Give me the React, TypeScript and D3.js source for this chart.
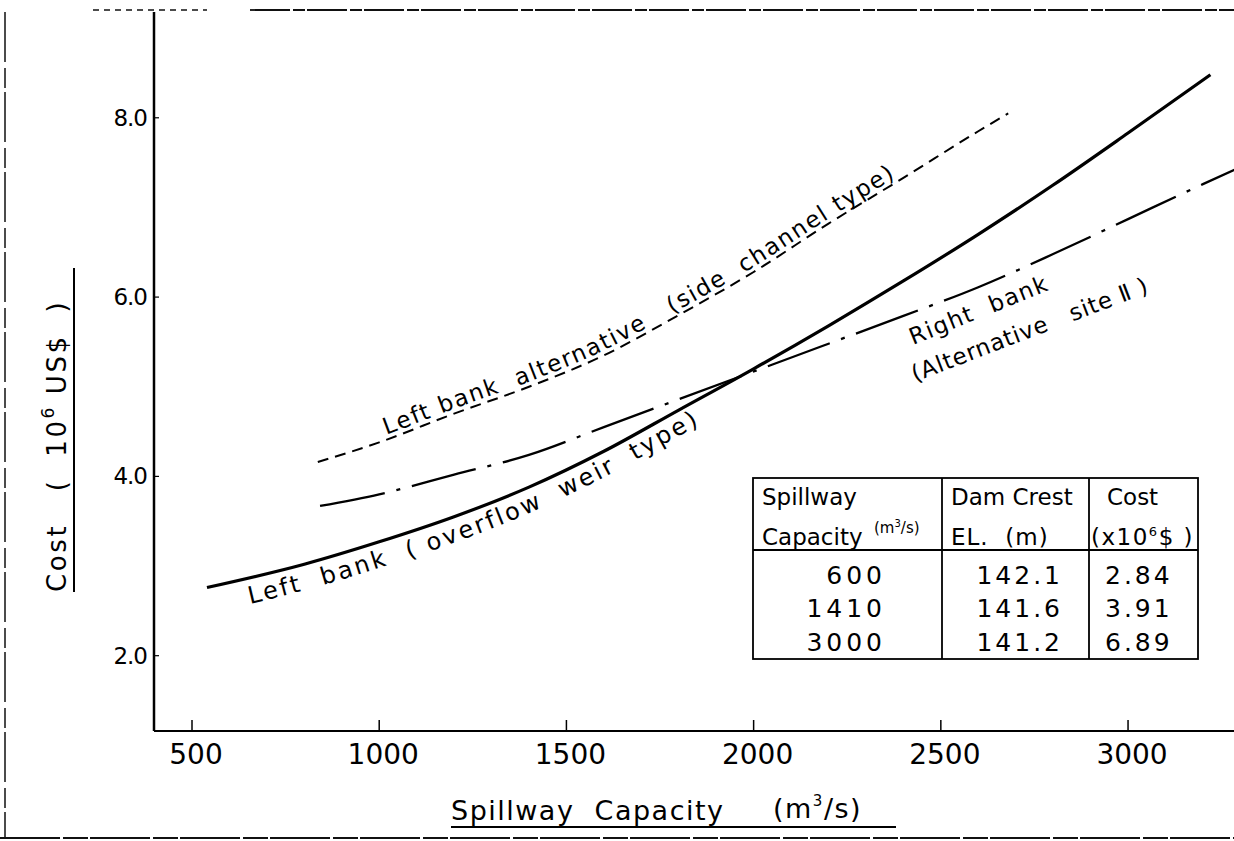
import React, { useLayoutEffect, useRef, useState } from 'react';
import * as d3 from 'd3';

const W = 1234;
const H = 841;

// Left bank (overflow weir type), solid line
const weirCap = [540, 800, 1000, 1200, 1400, 1600, 1800, 2000, 2200, 2400, 2600, 2800, 3000, 3220];
const weirCost = [2.76, 3.02, 3.27, 3.55, 3.88, 4.28, 4.74, 5.2, 5.68, 6.18, 6.7, 7.25, 7.83, 8.48];

// Left bank alternative (side channel type), dashed line
const sideCap = [836, 1000, 1200, 1400, 1600, 1800, 2000, 2200, 2400, 2600, 2680];
const sideCost = [4.16, 4.38, 4.7, 5.0, 5.35, 5.8, 6.28, 6.82, 7.33, 7.85, 8.05];

// Right bank (Alternative site II), dash-dot line
const rightCap = [842, 1000, 1200, 1400, 1600, 1800, 2000, 2200, 2400, 2600, 2800, 3000, 3200, 3290];
const rightCost = [3.67, 3.8, 4.02, 4.24, 4.55, 4.86, 5.17, 5.48, 5.79, 6.11, 6.48, 6.87, 7.26, 7.43];

const xTicks = [500, 1000, 1500, 2000, 2500, 3000];
const yTicks = [2, 4, 6, 8];

// curve labels, word by word with the gap after each word
const weirWords: [string, number][] = [['Left', 20], ['bank', 20], ['(', 10], ['overflow', 20], ['weir', 20], ['type)', 0]];
const sideWords: [string, number][] = [['Left', 9], ['bank', 18], ['alternative', 27], ['(side', 18], ['channel', 9], ['type)', 0]];

// inset table
const tableCap = ['600', '1410', '3000'];
const tableCrest = ['142.1', '141.6', '141.2'];
const tableCost = ['2.84', '3.91', '6.89'];

const font = '"DejaVu Sans", sans-serif';

const xScale = d3.scaleLinear().domain([398.5, 3283]).range([154, 1234]);
const yScale = d3.scaleLinear().domain([1.16, 9.18]).range([731, 12]);

const pairs = (xs: number[], ys: number[]) => xs.map((x, i) => [x, ys[i]] as [number, number]);

const lineAt = (off: number) =>
  d3
    .line<[number, number]>()
    .x((d) => xScale(d[0]))
    .y((d) => yScale(d[1]) + off)
    .curve(d3.curveMonotoneX);

function PathLabel({ href, words, start, fontSize, spacing }: any) {
  const refs = useRef<(SVGTextElement | null)[]>([]);
  const [offs, setOffs] = useState<number[] | null>(null);

  useLayoutEffect(() => {
    let o = start;
    const res: number[] = [];
    words.forEach((w: [string, number], i: number) => {
      res.push(o);
      const el = refs.current[i];
      o += (el ? el.getComputedTextLength() : 0) + w[1];
    });
    setOffs(res);
  }, []);

  return (
    <g visibility={offs ? 'visible' : 'hidden'}>
      {words.map((w: [string, number], i: number) => (
        <text key={i} ref={(el) => (refs.current[i] = el)} fontSize={fontSize} letterSpacing={spacing}>
          <textPath href={href} startOffset={offs ? offs[i] : start}>
            {w[0]}
          </textPath>
        </text>
      ))}
    </g>
  );
}

export default function App() {
  const line = lineAt(0);
  const weir = pairs(weirCap, weirCost);
  const side = pairs(sideCap, sideCost);
  const right = pairs(rightCap, rightCost);

  const [x0, x1] = xScale.range();
  const [yb, yt] = yScale.range();

  // table frame
  const tL = 753, tR = 1198, tT = 478, tH = 550, tB = 659, c2 = 942, c3 = 1089;
  const rowY = [584, 617, 651];

  return (
    <svg
      width={W}
      height={H}
      style={{ position: 'absolute', left: 0, top: 0, background: '#fff' }}
      fontFamily={font}
    >
      {/* scanned page frame */}
      <g stroke="#111" fill="none">
        <line x1={93} y1={10} x2={207} y2={10} strokeWidth={1.5} strokeDasharray="6,5" />
        <line x1={250} y1={10} x2={W} y2={10} strokeWidth={1.8} strokeDasharray="40,3,12,2" />
        <line x1={5} y1={12} x2={5} y2={838} strokeWidth={1.5} strokeDasharray="50,6,20,4" />
        <line x1={0} y1={838} x2={W} y2={838} strokeWidth={1.8} strokeDasharray="60,3,25,2" />
      </g>

      {/* axes */}
      <line x1={x0} y1={yt} x2={x0} y2={yb} stroke="#000" strokeWidth={2.5} />
      <line x1={x0} y1={yb} x2={x1} y2={yb} stroke="#000" strokeWidth={2} />
      {xTicks.map((t) => (
        <g key={t}>
          <line x1={xScale(t)} x2={xScale(t)} y1={yb} y2={yb - 11} stroke="#000" strokeWidth={1.5} />
          <text x={xScale(t) + 4} y={yb + 33} fontSize={28} textAnchor="middle">
            {t}
          </text>
        </g>
      ))}
      {yTicks.map((t) => (
        <g key={t}>
          <line x1={x0} x2={x0 + 5} y1={yScale(t)} y2={yScale(t)} stroke="#000" strokeWidth={1.2} />
          <text x={x0 - 7} y={yScale(t) + 8} fontSize={23} textAnchor="end" letterSpacing={-1}>
            {t.toFixed(1)}
          </text>
        </g>
      ))}

      {/* axis titles */}
      <text x={451} y={820} fontSize={27} letterSpacing={1.5}>
        Spillway&#160;&#160;Capacity
      </text>
      <text x={773} y={818} fontSize={27} letterSpacing={1.5}>
        (m<tspan fontSize={15} dy={-12}>3</tspan>
        <tspan dy={12}>/s)</tspan>
      </text>
      <line x1={451} x2={896} y1={827} y2={827} stroke="#000" strokeWidth={2} />

      <text transform="translate(66,592) rotate(-90)" fontSize={26} letterSpacing={2.6}>
        Cost&#160;&#160;&#160;(&#160;&#160;10<tspan fontSize={17} dy={-12}>6</tspan>
        <tspan dy={12}>&#160;US$&#160;&#160;)</tspan>
      </text>
      <line x1={74} x2={74} y1={268} y2={592} stroke="#000" strokeWidth={2} />

      {/* curves */}
      <path d={line(weir) ?? ''} fill="none" stroke="#000" strokeWidth={3.2} />
      <path d={line(side) ?? ''} fill="none" stroke="#000" strokeWidth={2} strokeDasharray="11,7" />
      <path
        d={line(right) ?? ''}
        fill="none"
        stroke="#000"
        strokeWidth={2.3}
        strokeDasharray="66,12,4,12"
      />

      {/* text paths for curve labels */}
      <defs>
        <path id="weirLbl" d={lineAt(26)(weir) ?? ''} />
        <path id="sideLbl" d={lineAt(-5)(side) ?? ''} />
      </defs>
      <PathLabel href="#weirLbl" words={weirWords} start={44} fontSize={24} spacing={2.6} />
      <PathLabel href="#sideLbl" words={sideWords} start={72} fontSize={23} spacing={1.7} />

      <text transform="translate(913,345) rotate(-22)" fontSize={23} letterSpacing={1.5}>
        Right&#160;&#160;bank
      </text>
      <text transform="translate(915,382) rotate(-21)" fontSize={23} letterSpacing={0.8}>
        (Alternative&#160;&#160;&#160;site&#160;Ⅱ&#160;)
      </text>

      {/* inset table */}
      <g stroke="#000" fill="none" strokeWidth={1.8}>
        <rect x={tL} y={tT} width={tR - tL} height={tB - tT} />
        <line x1={tL} x2={tR} y1={tH} y2={tH} />
        <line x1={c2} x2={c2} y1={tT} y2={tB} />
        <line x1={c3} x2={c3} y1={tT} y2={tB} />
      </g>
      <g fontSize={23}>
        <text x={762} y={505}>Spillway</text>
        <text x={762} y={545}>Capacity</text>
        <text x={874} y={533} fontSize={15}>
          (m<tspan fontSize={10} dy={-6}>3</tspan>
          <tspan dy={6}>/s)</tspan>
        </text>
        <text x={951} y={505}>Dam Crest</text>
        <text x={951} y={545} letterSpacing={1}>
          EL.&#160;&#160;(m)
        </text>
        <text x={1107} y={505}>Cost</text>
        <text x={1091} y={545} letterSpacing={1.5}>
          (x10<tspan fontSize={13} dy={-9}>6</tspan>
          <tspan dy={9}>$ )</tspan>
        </text>
        {tableCap.map((v, i) => (
          <text key={'c' + i} x={886} y={rowY[i]} textAnchor="end" fontSize={25} letterSpacing={4}>
            {v}
          </text>
        ))}
        {tableCrest.map((v, i) => (
          <text key={'e' + i} x={1063} y={rowY[i]} textAnchor="end" fontSize={25} letterSpacing={3}>
            {v}
          </text>
        ))}
        {tableCost.map((v, i) => (
          <text key={'k' + i} x={1105} y={rowY[i]} fontSize={25} letterSpacing={3}>
            {v}
          </text>
        ))}
      </g>
    </svg>
  );
}
